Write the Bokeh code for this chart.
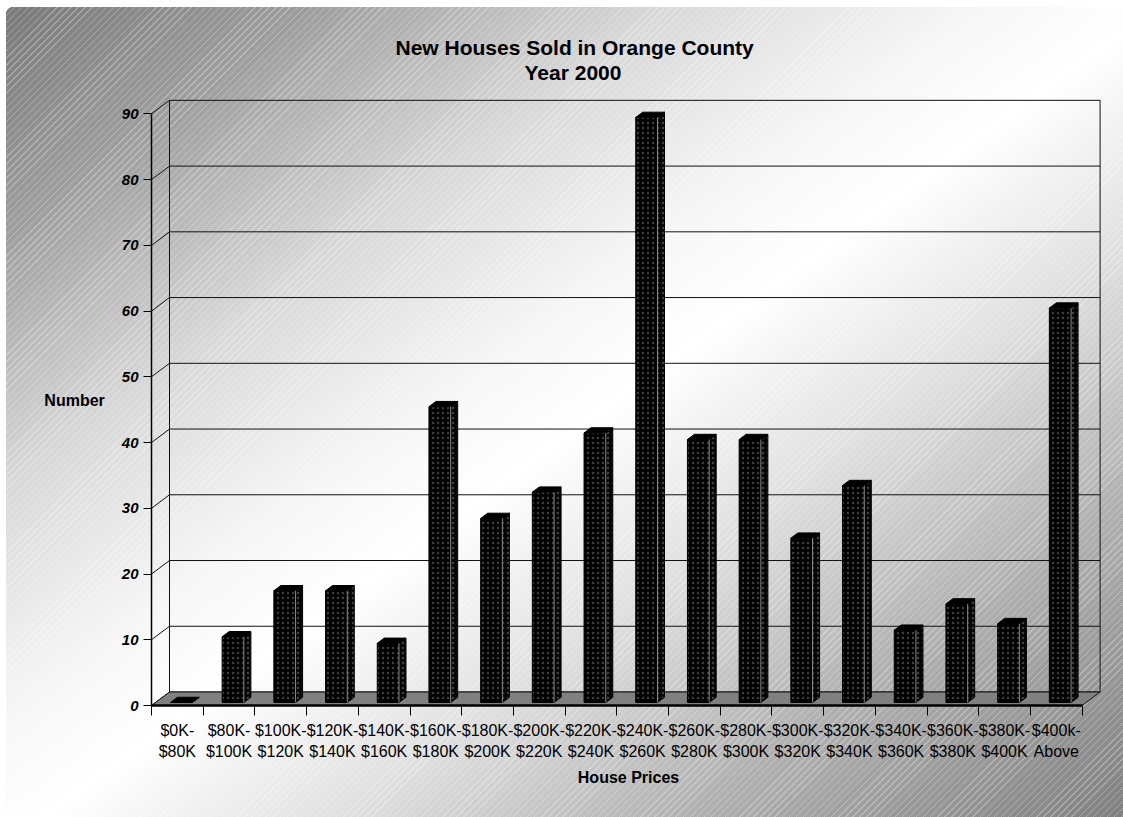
import numpy as np
from bokeh.plotting import figure
from bokeh.models import Range1d, FixedTicker, Title
from bokeh.embed import file_html
from bokeh.resources import INLINE

# ---------------- data ----------------
categories = ["$0K-\n$80K", "$80K-\n$100K", "$100K-\n$120K", "$120K-\n$140K",
              "$140K-\n$160K", "$160K-\n$180K", "$180K-\n$200K", "$200K-\n$220K",
              "$220K-\n$240K", "$240K-\n$260K", "$260K-\n$280K", "$280K-\n$300K",
              "$300K-\n$320K", "$320K-\n$340K", "$340K-\n$360K", "$360K-\n$380K",
              "$380K-\n$400K", "$400k-\nAbove"]
houses_sold = [0, 10, 17, 17, 9, 45, 28, 32, 41, 89, 40, 40, 25, 33, 11, 15, 12, 60]
y_ticks = [0, 10, 20, 30, 40, 50, 60, 70, 80, 90]
title_line1 = "New Houses Sold in Orange County"
title_line2 = "Year 2000"
x_title = "House Prices"
y_title = "Number"

# ---------------- layout ----------------
W, H = 1123, 817
LEFT, RIGHT, TOP, BOTTOM = 151, 18, 95, 112
frame_w = W - LEFT - RIGHT
frame_h = H - TOP - BOTTOM
PX_X = 51.7     # pixels per category
PX_Y = 6.574    # pixels per unit
n = len(categories)
y_max = y_ticks[-1]
x_end = frame_w / PX_X
y_end = frame_h / PX_Y
DX = 18.0 / PX_X      # 3-D depth offset (data units)
DY = 13.5 / PX_Y
A, B = 0.22, 0.61     # bar front / back depth fractions
BW = 0.42             # bar width (fraction of category)
FONT = "Liberation Sans"

bg = ("radial-gradient(circle at 14px 15px, rgba(255,255,255,0) 8px, #ffffff 8.8px) 0 0 / 14px 15px no-repeat, "
      "linear-gradient(#ffffff, #ffffff) 0 0 / 100% 7px no-repeat, "
      "linear-gradient(#ffffff, #ffffff) 0 0 / 6px 100% no-repeat, "
      "repeating-linear-gradient(135deg, rgba(255,255,255,0.28) 0px, rgba(255,255,255,0.28) 1px, "
      "rgba(255,255,255,0) 1px, rgba(255,255,255,0) 5px), "
      "linear-gradient(to bottom right, #777777 0%, #a0a0a0 15%, #d8d8d8 30%, #f6f6f6 44%, "
      "#ffffff 52%, #e0e0e0 65%, #b2b2b2 80%, #808080 100%)")

p = figure(width=W, height=H, x_range=Range1d(0, x_end), y_range=Range1d(0, y_end),
           output_backend="svg", toolbar_location=None,
           min_border_left=LEFT, min_border_right=RIGHT,
           min_border_top=TOP, min_border_bottom=BOTTOM,
           background_fill_alpha=0, border_fill_alpha=0, outline_line_color=None)
p.styles = {"background": bg}
p.grid.visible = False

# ---------------- 3-D walls ----------------
yt = np.array(y_ticks, dtype=float)
p.segment(x0=np.full(len(yt), DX), y0=yt + DY, x1=np.full(len(yt), n + DX), y1=yt + DY,
          line_color="#111111", line_width=1)
p.segment(x0=np.zeros(len(yt)), y0=yt, x1=np.full(len(yt), DX), y1=yt + DY,
          line_color="#111111", line_width=1)
p.segment(x0=[DX, n + DX], y0=[DY, DY], x1=[DX, n + DX], y1=[y_max + DY, y_max + DY],
          line_color="#111111", line_width=1)
p.patch(x=[0, n, n + DX, DX], y=[0, 0, DY, DY], fill_color="#808080",
        line_color="#111111", line_width=1)

# ---------------- bars ----------------
v = np.array(houses_sold, dtype=float)
cx = np.arange(n) + 0.5
xl = cx - BW / 2 + A * DX
xr = cx + BW / 2 + A * DX
yb = A * DY
yt_bar = v + A * DY
ddx = (B - A) * DX
ddy = (B - A) * DY

hatch = dict(hatch_pattern="dot", hatch_color="#8a8a8a", hatch_scale=5, hatch_weight=0.7,
             hatch_alpha=0.45)
side_xs = [[r, r + ddx, r + ddx, r] for r in xr]
side_ys = [[yb, yb + ddy, t + ddy, t] for t in yt_bar]
p.patches(xs=side_xs, ys=side_ys, fill_color="#050505", line_color="#000000",
          line_width=1, **hatch)
top_xs = [[l, r, r + ddx, l + ddx] for l, r in zip(xl, xr)]
top_ys = [[t, t, t + ddy, t + ddy] for t in yt_bar]
p.patches(xs=top_xs, ys=top_ys, fill_color="#000000", line_color="#000000", line_width=1)
p.quad(left=xl, right=xr, bottom=yb, top=yt_bar, fill_color="#000000",
       line_color="#000000", line_width=1, **hatch)
p.segment(x0=xr, y0=np.full(n, yb), x1=xr, y1=yt_bar, line_color="#c8c8c8",
          line_width=1, line_alpha=0.7)

# ---------------- axes ----------------
yax = p.yaxis[0]
yax.ticker = FixedTicker(ticks=y_ticks)
yax.bounds = (0, y_max)
yax.axis_line_color = "#000000"
yax.axis_line_width = 1.5
yax.major_tick_out = 8
yax.major_tick_in = 0
yax.minor_tick_out = 0
yax.minor_tick_in = 0
yax.major_tick_line_color = "#000000"
yax.major_label_text_font = FONT
yax.major_label_text_font_size = "15px"
yax.major_label_text_font_style = "bold italic"
yax.major_label_text_color = "#000000"
yax.major_label_standoff = 5
yax.axis_label = y_title
yax.axis_label_orientation = "horizontal"
yax.axis_label_text_font = FONT
yax.axis_label_text_font_size = "16px"
yax.axis_label_text_font_style = "bold"
yax.axis_label_text_color = "#000000"
yax.axis_label_standoff = 14

xax = p.xaxis[0]
centers = [i + 0.5 for i in range(n)]
xax.ticker = FixedTicker(ticks=centers, minor_ticks=list(range(n + 1)))
xax.major_label_overrides = {c: lab for c, lab in zip(centers, categories)}
xax.bounds = (0, n)
xax.axis_line_color = "#000000"
xax.axis_line_width = 2.5
xax.major_tick_out = 0
xax.major_tick_in = 0
xax.major_tick_line_color = None
xax.minor_tick_out = 10
xax.minor_tick_in = 0
xax.minor_tick_line_color = "#000000"
xax.minor_tick_line_width = 1
xax.major_label_text_font = FONT
xax.major_label_text_font_size = "16px"
xax.major_label_text_color = "#000000"
xax.major_label_text_line_height = 1.25
xax.major_label_standoff = 6
xax.axis_label = x_title
xax.axis_label_text_font = FONT
xax.axis_label_text_font_size = "16px"
xax.axis_label_text_font_style = "bold"
xax.axis_label_text_color = "#000000"
xax.axis_label_standoff = 6

# ---------------- title (first added sits nearest the frame) ----------------
spacer = Title(text=" ", standoff=0, text_font=FONT, text_font_size="9px")
t2 = Title(text=title_line2, align="left", offset=524 - LEFT, standoff=0,
           text_font=FONT, text_font_size="21px", text_font_style="bold",
           text_color="#000000")
t1 = Title(text=title_line1, align="left", offset=395 - LEFT, standoff=0,
           text_font=FONT, text_font_size="21px", text_font_style="bold",
           text_color="#000000")
p.add_layout(spacer, "above")
p.add_layout(t2, "above")
p.add_layout(t1, "above")

open("out.html", "w").write(file_html(p, INLINE))
